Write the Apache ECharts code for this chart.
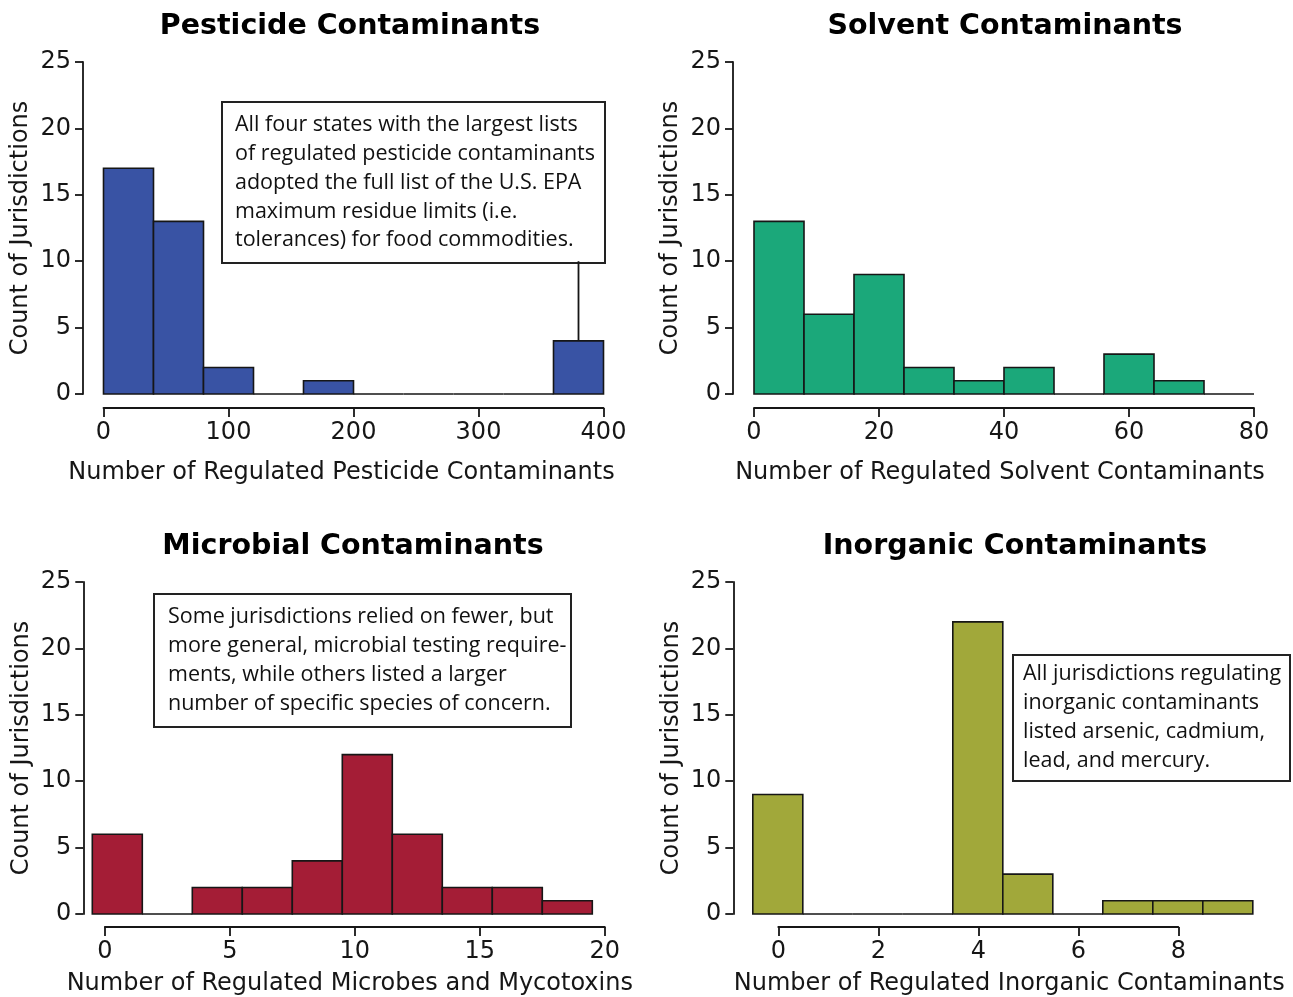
<!DOCTYPE html>
<html>
<head>
<meta charset="utf-8">
<script src="https://cdn.jsdelivr.net/npm/echarts@6/dist/echarts.min.js"></script>
<style>
html,body{margin:0;padding:0;background:#ffffff;}
#chart{width:1293px;height:997px;}
</style>
</head>
<body>
<div id="chart"></div>
<script>
// ---------- data ----------
const panelTitles = ['Pesticide Contaminants', 'Solvent Contaminants', 'Microbial Contaminants', 'Inorganic Contaminants'];
const xTitles = [
  'Number of Regulated Pesticide Contaminants',
  'Number of Regulated Solvent Contaminants',
  'Number of Regulated Microbes and Mycotoxins',
  'Number of Regulated Inorganic Contaminants'
];
const yTitle = 'Count of Jurisdictions';
const yTickValues = [0, 5, 10, 15, 20, 25];

const pesticideCounts = [17, 13, 2, 0, 1, 0, 0, 0, 0, 4];
const pesticideBinStart = 0;
const pesticideBinWidth = 40;
const pesticideTicks = [0, 100, 200, 300, 400];

const solventCounts = [13, 6, 9, 2, 1, 2, 0, 3, 1, 0];
const solventBinStart = 0;
const solventBinWidth = 8;
const solventTicks = [0, 20, 40, 60, 80];

const microbialCounts = [6, 0, 2, 2, 4, 12, 6, 2, 2, 1];
const microbialBinStart = -0.5;
const microbialBinWidth = 2;
const microbialTicks = [0, 5, 10, 15, 20];

const inorganicCounts = [9, 0, 0, 0, 22, 3, 0, 1, 1, 1];
const inorganicBinStart = -0.5;
const inorganicBinWidth = 1;
const inorganicTicks = [0, 2, 4, 6, 8];

const noteTexts = [
  'All four states with the largest lists\nof regulated pesticide contaminants\nadopted the full list of the U.S. EPA\nmaximum residue limits (i.e.\ntolerances) for food commodities.',
  'Some jurisdictions relied on fewer, but\nmore general, microbial testing require-\nments, while others listed a larger\nnumber of specific species of concern.',
  'All jurisdictions regulating\ninorganic contaminants\nlisted arsenic, cadmium,\nlead, and mercury.'
];
const pesticideNoteBottom = 10; // count level where the note box ends

// ---------- helpers ----------
function bins(start, width, counts) {
  return counts.map((c, i) => [start + i * width, start + (i + 1) * width, c]);
}
const pesticideBins = bins(pesticideBinStart, pesticideBinWidth, pesticideCounts);
const solventBins = bins(solventBinStart, solventBinWidth, solventCounts);
const microbialBins = bins(microbialBinStart, microbialBinWidth, microbialCounts);
const inorganicBins = bins(inorganicBinStart, inorganicBinWidth, inorganicCounts);

const colors = ['#3953a4', '#1ba87a', '#a41d36', '#a1a83a'];
const ink = '#161616';
const axisFont = 'DejaVu Sans';
const lineStyle = {color: ink, width: 1.8};

function histSeries(idx, data, color) {
  return {
    type: 'custom',
    xAxisIndex: idx, yAxisIndex: idx,
    data: data,
    encode: {x: [0, 1], y: 2},
    silent: true,
    renderItem: function (params, api) {
      const p0 = api.coord([api.value(0), api.value(2)]);
      const p1 = api.coord([api.value(1), 0]);
      return {
        type: 'rect',
        shape: {x: p0[0], y: p0[1], width: p1[0] - p0[0], height: p1[1] - p0[1]},
        style: {fill: color, stroke: ink, lineWidth: 1.6}
      };
    }
  };
}

function yAxisVisible(gi, offset) {
  return {
    type: 'value', gridIndex: gi, position: 'left', offset: offset,
    min: yTickValues[0], max: yTickValues[yTickValues.length - 1],
    interval: yTickValues[1] - yTickValues[0],
    axisLine: {show: true, onZero: false, lineStyle: lineStyle},
    axisTick: {show: true, length: 8, lineStyle: lineStyle},
    axisLabel: {margin: 12, fontFamily: axisFont, fontSize: 24, color: ink},
    splitLine: {show: false},
    name: yTitle, nameLocation: 'middle', nameGap: 50, nameMoveOverlap: false,
    nameTextStyle: {fontFamily: axisFont, fontSize: 24, color: ink}
  };
}
function yAxisHidden(gi) {
  return {type: 'value', gridIndex: gi, min: 0, max: 25, show: false};
}
function xAxisVisible(gi, ticks, name, gap, pad) {
  return {
    type: 'value', gridIndex: gi, position: 'bottom', offset: 14,
    min: ticks[0], max: ticks[ticks.length - 1], interval: ticks[1] - ticks[0],
    axisLine: {show: true, onZero: false, lineStyle: lineStyle},
    axisTick: {show: true, length: 9, lineStyle: lineStyle},
    axisLabel: {margin: 13, fontFamily: axisFont, fontSize: 24, color: ink},
    splitLine: {show: false},
    name: name, nameLocation: 'middle', nameGap: gap, nameMoveOverlap: false,
    nameTextStyle: {fontFamily: axisFont, fontSize: 24, color: ink, padding: pad}
  };
}
function xAxisHidden(gi, min, max) {
  return {type: 'value', gridIndex: gi, min: min, max: max, show: false};
}

const chart = echarts.init(document.getElementById('chart'), null, {renderer: 'canvas'});

const lastBin = pesticideBins[pesticideBins.length - 1];
const connector = [
  [(lastBin[0] + lastBin[1]) / 2, lastBin[2]],
  [(lastBin[0] + lastBin[1]) / 2, pesticideNoteBottom]
];

const noteFont = '21.5px "Open Sans"';
function note(x, y, w, h, tx, ty, text) {
  return {
    type: 'group', left: x, top: y, z: 10,
    children: [
      {type: 'rect', shape: {x: 0, y: 0, width: w, height: h},
       style: {fill: '#ffffff', stroke: '#222222', lineWidth: 2}},
      {type: 'text', x: tx, y: ty,
       style: {text: text, font: noteFont, fill: '#111111', lineHeight: 28.8, verticalAlign: 'top'}}
    ]
  };
}

const titleStyle = {fontFamily: axisFont, fontWeight: 'bold', fontSize: 28.5, color: '#000'};
const titlePos = [[350, 27], [1005, 27], [353, 547], [1015, 547]];

const option = {
  animation: false,
  backgroundColor: '#ffffff',
  title: panelTitles.map((t, i) => ({
    text: t, left: titlePos[i][0], top: titlePos[i][1], padding: 0,
    textAlign: 'center', textVerticalAlign: 'middle', textStyle: titleStyle
  })),
  grid: [
    {left: 103.5, top: 62, width: 500, height: 332},
    {left: 754, top: 62, width: 500, height: 332},
    {left: 92.3, top: 582, width: 500, height: 332},
    {left: 752.8, top: 582, width: 500, height: 332},
    {left: 104.8, top: 582, width: 500, height: 332},
    {left: 778.3, top: 582, width: 400, height: 332}
  ],
  xAxis: [
    xAxisVisible(0, pesticideTicks, xTitles[0], 53, [0, 24, 0, 0]),
    xAxisVisible(1, solventTicks, xTitles[1], 53, [0, 8, 0, 0]),
    xAxisHidden(2, microbialBinStart, microbialBinStart + microbialBinWidth * microbialCounts.length),
    xAxisHidden(3, inorganicBinStart, inorganicBinStart + inorganicBinWidth * inorganicCounts.length),
    xAxisVisible(4, microbialTicks, xTitles[2], 45, [0, 10, 0, 0]),
    xAxisVisible(5, inorganicTicks, xTitles[3], 45, [0, 0, 0, 62])
  ],
  yAxis: [
    yAxisVisible(0, 20.5),
    yAxisVisible(1, 21),
    yAxisVisible(2, 9),
    yAxisVisible(3, 19.5),
    yAxisHidden(4),
    yAxisHidden(5)
  ],
  series: [
    histSeries(0, pesticideBins, colors[0]),
    histSeries(1, solventBins, colors[1]),
    histSeries(2, microbialBins, colors[2]),
    histSeries(3, inorganicBins, colors[3]),
    {
      type: 'line', xAxisIndex: 0, yAxisIndex: 0, data: connector,
      symbol: 'none', silent: true, z: 1,
      lineStyle: {color: ink, width: 1.8}
    }
  ],
  graphic: [
    note(221, 101, 383, 161, 13, 8.6, noteTexts[0]),
    note(153, 593, 417, 133, 14, 8.6, noteTexts[1]),
    note(1012, 654, 277, 126, 10, 4.6, noteTexts[2])
  ]
};
chart.setOption(option);
</script>
</body>
</html>
